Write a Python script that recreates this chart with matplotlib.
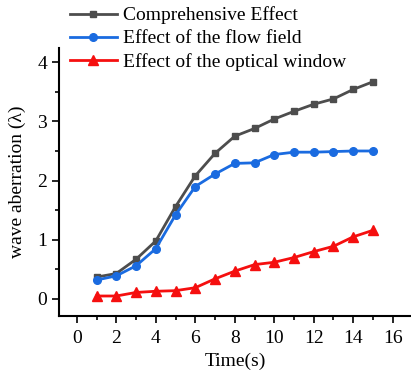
import numpy as np
import matplotlib.pyplot as plt
from matplotlib.ticker import MultipleLocator

plt.rcParams['font.family'] = ['Liberation Serif', 'DejaVu Serif']

time_s = [1, 2, 3, 4, 5, 6, 7, 8, 9, 10, 11, 12, 13, 14, 15]
comprehensive = [0.37, 0.43, 0.67, 0.98, 1.56, 2.08, 2.46, 2.75, 2.88, 3.04,
                 3.17, 3.29, 3.38, 3.54, 3.67]
flow_field = [0.32, 0.39, 0.56, 0.85, 1.42, 1.90, 2.11, 2.29, 2.30, 2.44,
              2.48, 2.48, 2.49, 2.50, 2.50]
optical_window = [0.05, 0.05, 0.11, 0.13, 0.14, 0.19, 0.34, 0.47, 0.58, 0.62,
                  0.70, 0.80, 0.89, 1.05, 1.16]

fig = plt.figure(figsize=(4.11, 3.75), dpi=100)
ax = fig.add_axes([0.1436, 0.157, 0.86, 0.715])

ax.plot(time_s, comprehensive, color='#4d4d4d', marker='s', markersize=5,
        lw=2, label='Comprehensive Effect')
ax.plot(time_s, flow_field, color='#1a6be0', marker='o', markersize=5.5,
        lw=2, label='Effect of the flow field')
ax.plot(time_s, optical_window, color='#f50f0f', marker='^', markersize=6.5,
        lw=2, label='Effect of the optical window')

ax.set_xlim(-0.9, 17.0)
ax.set_ylim(-0.29, 4.24)
ax.xaxis.set_major_locator(MultipleLocator(2))
ax.xaxis.set_minor_locator(MultipleLocator(1))
ax.yaxis.set_major_locator(MultipleLocator(1))
ax.yaxis.set_minor_locator(MultipleLocator(0.5))
ax.tick_params(which='major', direction='out', length=5, width=1.2, labelsize=14)
ax.tick_params(which='minor', direction='out', length=3, width=1.2)
ax.tick_params(axis='x', which='major', pad=5)

for side in ('top', 'right'):
    ax.spines[side].set_visible(False)
for side in ('left', 'bottom'):
    ax.spines[side].set_linewidth(1.5)

ax.set_xlabel('Time(s)', fontsize=14, labelpad=4)
ax.set_ylabel('wave aberration (λ)', fontsize=14, labelpad=8)

ax.legend(loc='upper left', bbox_to_anchor=(0.031, 1.155), frameon=False,
          fontsize=14, handlelength=2.4, handletextpad=0.35,
          labelspacing=0.28, borderaxespad=0, borderpad=0)

fig.savefig('out.png', dpi=100)
